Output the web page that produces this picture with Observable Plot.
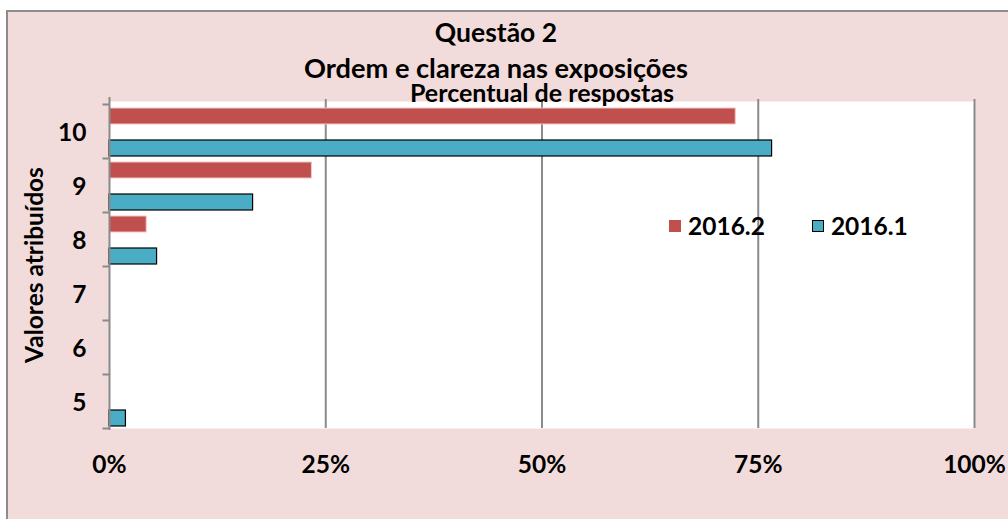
<!DOCTYPE html>
<html>
<head>
<meta charset="utf-8">
<script src="https://cdn.jsdelivr.net/npm/d3@7"></script>
<script src="https://cdn.jsdelivr.net/npm/@observablehq/plot@0.6"></script>
<style>
  html, body { margin: 0; padding: 0; background: #ffffff; }
  #wrap { position: relative; width: 1008px; height: 519px; overflow: hidden; font-family: Lato, "Open Sans", sans-serif; }
  #bg { position: absolute; left: 6px; top: 10px; width: 1100px; height: 600px; background: #F2DCDB; border: 2px solid #8c8c8c; box-sizing: border-box; }
  #chart { position: absolute; left: 0; top: 0; }
  .t { position: absolute; left: 0; width: 992px; text-align: center; font-weight: bold; color: #000; font-size: 26.5px; line-height: 30px; }
  #legend { position: absolute; left: 669px; top: 211px; font-weight: bold; font-size: 24.5px; line-height: 30px; display: flex; align-items: center; }
  .sw { display: inline-block; width: 12px; height: 12px; box-sizing: border-box; margin-right: 7px; }
</style>
</head>
<body>
<div id="wrap">
  <div id="bg"></div>
  <div id="chart"></div>
  <div class="t" style="top:17px">Questão 2</div>
  <div class="t" style="top:53px; font-size:27.2px">Ordem e clareza nas exposições</div>
  <div id="legend"></div>
</div>
<script>
const categorias = ["10", "9", "8", "7", "6", "5"];
const series = ["2016.2", "2016.1"];
const valores2016_2 = [72.4, 23.4, 4.3, 0, 0, 0];
const valores2016_1 = [76.6, 16.6, 5.5, 0, 0, 1.9];
const ticksX = [0, 25, 50, 75, 100];
const cores = ["#C0504D", "#4BACC6"];
const tituloX = "Percentual de respostas";
const tituloY = "Valores atribuídos";

const dados2 = categorias.map((c, i) => ({cat: c, v: valores2016_2[i]})).filter(d => d.v > 0);
const dados1 = categorias.map((c, i) => ({cat: c, v: valores2016_1[i]})).filter(d => d.v > 0);

const fontBold = {fontWeight: "bold", fill: "#000"};

const chart = Plot.plot({
  width: 1008,
  height: 519,
  marginLeft: 109,
  marginRight: 34,
  marginTop: 101,
  marginBottom: 91,
  style: {background: "transparent", fontFamily: "Lato, 'Open Sans', sans-serif", fontSize: "24px", overflow: "visible"},
  x: {domain: [0, 100], ticks: ticksX},
  y: {domain: categorias, padding: 0, insetTop: 3},
  marks: [
    Plot.frame({fill: "white", stroke: null}),
    Plot.ruleX(ticksX.slice(1), {stroke: "#8a8a8a", strokeWidth: 2, insetTop: -2}),
    Plot.barX(dados2, {x: "v", y: "cat", fill: cores[0], stroke: "#f4c7c6", strokeWidth: 1, insetTop: 4, insetBottom: 34}),
    Plot.barX(dados1, {x: "v", y: "cat", fill: cores[1], stroke: "#000", strokeWidth: 1.2, insetTop: 36, insetBottom: 2}),
    Plot.ruleX([0], {stroke: "#8a8a8a", strokeWidth: 2, insetTop: -4, insetBottom: -2}),
    Plot.ruleY(categorias, {y: d => d, x1: -0.75, x2: 0, stroke: "#8a8a8a", strokeWidth: 2, dy: -27}),
    Plot.ruleY(["5"], {y: d => d, x1: -0.75, x2: 0, stroke: "#8a8a8a", strokeWidth: 2, dy: 27}),
    Plot.axisY({tickSize: 0, tickPadding: 23, label: null, fontSize: 24.5, fontWeight: "bold", fill: "#000", dy: 2}),
    Plot.axisX(ticksX, {anchor: "bottom", tickSize: 0, tickPadding: 27, label: null, tickFormat: d => d + "%", fontSize: 24.5, fontWeight: "bold", fill: "#000"}),
    Plot.text([tituloY], {frameAnchor: "left", textAnchor: "middle", rotate: -90, dx: -74, fontSize: 24.5, ...fontBold}),
    Plot.text([tituloX], {frameAnchor: "top", dy: -17, fontSize: 25, ...fontBold})
  ]
});
document.getElementById("chart").appendChild(chart);

const legend = document.getElementById("legend");
series.forEach((s, i) => {
  const item = document.createElement("span");
  item.style.display = "inline-flex";
  item.style.alignItems = "center";
  item.style.marginRight = i === 0 ? "47px" : "0";
  const sw = document.createElement("span");
  sw.className = "sw";
  sw.style.background = cores[i];
  if (i === 1) sw.style.border = "1px solid #000";
  item.appendChild(sw);
  item.appendChild(document.createTextNode(s));
  legend.appendChild(item);
});
</script>
</body>
</html>
